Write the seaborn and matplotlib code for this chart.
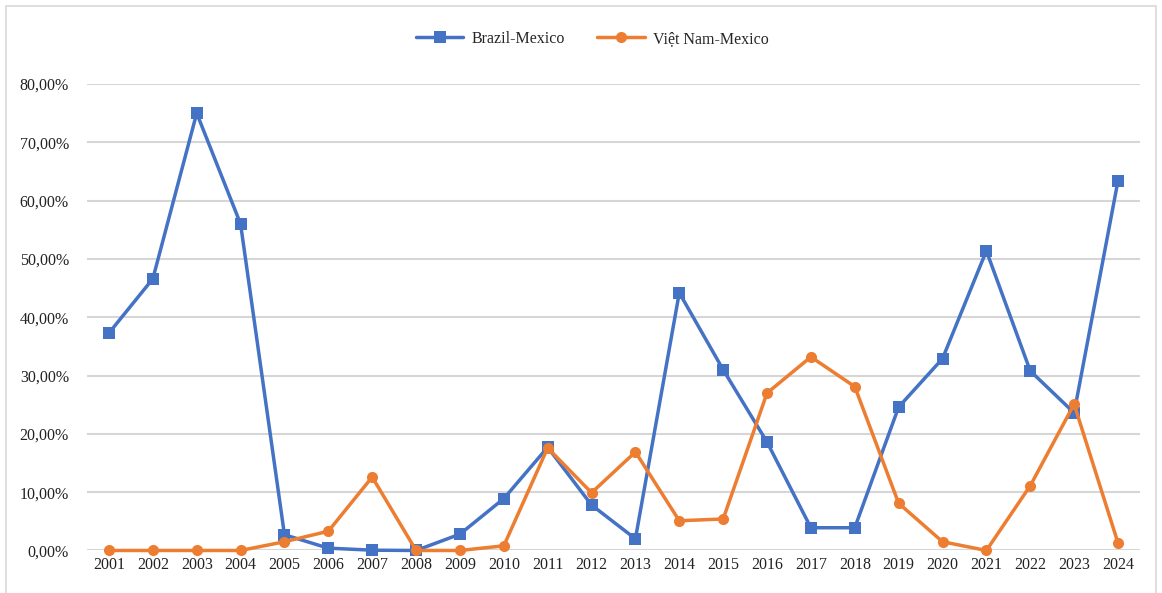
import numpy as np
import pandas as pd
import matplotlib
matplotlib.use("Agg")
import matplotlib.pyplot as plt
import seaborn as sns
from matplotlib.patches import Rectangle
from matplotlib.ticker import FuncFormatter, MultipleLocator

# Данные (в процентах)
years = list(range(2001, 2025))
brazil_mexico = [37.3, 46.6, 75.0, 56.0, 2.7, 0.4, 0.05, 0.0, 2.8, 8.9,
                 17.7, 7.8, 2.0, 44.2, 31.0, 18.6, 3.9, 3.9, 24.6, 32.9,
                 51.4, 30.8, 23.6, 63.4]
vietnam_mexico = [0.0, 0.0, 0.0, 0.0, 1.5, 3.3, 12.6, 0.0, 0.0, 0.8,
                  17.6, 9.9, 16.9, 5.1, 5.4, 27.0, 33.2, 28.1, 8.1, 1.5,
                  0.0, 11.1, 25.1, 1.3]
series_names = ["Brazil-Mexico", "Việt Nam-Mexico"]
colors = ["#4472C4", "#ED7D31"]

df = pd.DataFrame({
    "year": years * 2,
    "value": brazil_mexico + vietnam_mexico,
    "series": [series_names[0]] * len(years) + [series_names[1]] * len(years),
})

sns.set_style("white")
plt.rcParams["font.family"] = ["Liberation Serif", "DejaVu Serif"]

fig = plt.figure(figsize=(11.62, 5.93), dpi=100)
ax = fig.add_axes([0.0749, 0.0717, 0.9061, 0.7866])

sns.lineplot(data=df, x="year", y="value", hue="series", style="series",
             palette=colors, markers=["s", "o"], dashes=False,
             linewidth=2.5, markersize=8, markeredgewidth=0, ax=ax)

ax.set_xlim(2000.5, 2024.5)
ax.set_ylim(0, 80)
ax.set_xticks(years)
ax.set_xticklabels([str(y) for y in years])
ax.yaxis.set_major_locator(MultipleLocator(10))
ax.yaxis.set_major_formatter(FuncFormatter(lambda v, p: f"{v:.2f}%".replace(".", ",")))
ax.tick_params(axis="both", length=0, labelsize=11.5, colors="#222222", pad=5)
ax.tick_params(axis="y", pad=13)
ax.grid(axis="y", color="#d6d6d6", linewidth=1.5)
ax.set_axisbelow(True)
for s in ax.spines.values():
    s.set_visible(False)
ax.set_xlabel("")
ax.set_ylabel("")
for line in ax.lines:
    line.set_clip_on(False)

leg = ax.legend(loc="center", ncol=2, frameon=False, fontsize=11.5,
                handlelength=3.0, handletextpad=0.5, columnspacing=2.0)
leg.set_bbox_to_anchor((592 / 1162, 1 - 39 / 593), transform=fig.transFigure)

# рамка вокруг всей диаграммы
fig.patches.append(Rectangle((6 / 1162, -0.02), 1 - 12 / 1162, 1 - 6 / 593 + 0.02,
                             transform=fig.transFigure, fill=False,
                             edgecolor="#d9d9d9", linewidth=1.2))

fig.savefig("out.png", dpi=100)
